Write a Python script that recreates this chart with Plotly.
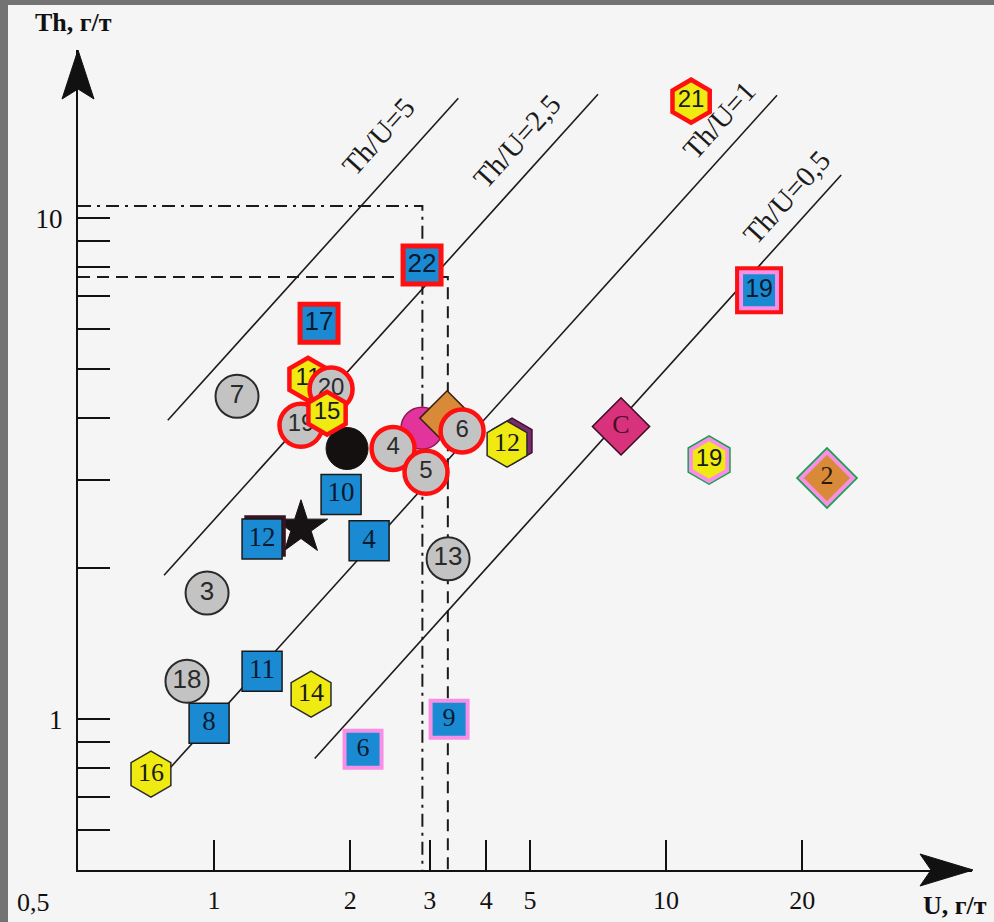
import math
import plotly.graph_objects as go

# ---------------------------------------------------------------- data
# Th/U reference lines: ratio and the U span over which each is drawn
ratio_values = [5, 2.5, 1, 0.5]
ratio_u_from = [0.79, 0.775, 0.77, 1.67]
ratio_u_to = [3.47, 7.07, 17.6, 24.4]
ratio_names = ["Th/U=5", "Th/U=2,5", "Th/U=1", "Th/U=0,5"]
ratio_name_u = [2.31, 4.68, 13.1, 18.5]
ratio_name_th = [14.6, 14.25, 15.7, 11.0]

# reference levels (dash-dot and dashed guides)
guide_u = [2.89, 3.29]
guide_th = [10.57, 7.63]

# grey circles
grey_labels = ["7", "3", "18", "13"]
grey_u = [1.124, 0.965, 0.871, 3.294]
grey_th = [4.41, 1.785, 1.191, 2.09]

# grey circles with red rim
grey_red_labels = ["20", "19", "4", "5", "6"]
grey_red_u = [1.815, 1.557, 2.489, 2.944, 3.538]
grey_red_th = [4.56, 3.86, 3.47, 3.11, 3.76]

# blue squares
blue_labels = ["10", "12", "4", "11", "8"]
blue_u = [1.910, 1.277, 2.203, 1.277, 0.975]
blue_th = [2.81, 2.29, 2.27, 1.247, 0.982]

# blue squares with red rim
blue_red_labels = ["17", "22"]
blue_red_u = [1.707, 2.885]
blue_red_th = [6.17, 8.06]

# blue squares with pink rim
blue_pink_labels = ["6", "9"]
blue_pink_u = [2.136, 3.311]
blue_pink_th = [0.871, 1.0]

# blue square with pink and red rims
blue_double_labels = ["19"]
blue_double_u = [16.06]
blue_double_th = [7.18]

# yellow hexagons
hex_labels = ["14", "16", "12"]
hex_u = [1.639, 0.725, 4.448]
hex_th = [1.122, 0.777, 3.54]

# yellow hexagons with red rim
hex_red_labels = ["11", "21", "15"]
hex_red_u = [1.614, 11.36, 1.778]
hex_red_th = [4.77, 17.12, 4.08]

# yellow hexagon with pink and green rims
hex_double_labels = ["19"]
hex_double_u = [12.45]
hex_double_th = [3.29]

# diamonds
diamond_c_labels = ["C"]
diamond_c_u = [7.95]
diamond_c_th = [3.84]

diamond_double_labels = ["2"]
diamond_double_u = [22.7]
diamond_double_th = [3.03]

diamond_orange_u = [3.278]
diamond_orange_th = [3.99]

# plain symbols
magenta_u = [2.885]
magenta_th = [3.81]
black_u = [1.969]
black_th = [3.47]
star_u = [1.557]
star_th = [2.41]

x_ticks = [1, 2, 3, 4, 5, 10, 20]
y_ticks = [0.6, 0.7, 0.8, 0.9, 1, 2, 3, 4, 5, 6, 7, 8, 9, 10]
y_tick_text = ["1" if v == 1 else "10" if v == 10 else "" for v in y_ticks]

# ---------------------------------------------------------------- styling
W, H = 994, 922
L, R, T, B = 78, 22, 50, 52
PX_PER_DEC_X = 452.0
PX_PER_DEC_Y = 501.0
plot_w = W - L - R
plot_h = H - T - B
x_range = [math.log10(0.5), math.log10(0.5) + plot_w / PX_PER_DEC_X]
y_range = [math.log10(0.5), math.log10(0.5) + plot_h / PX_PER_DEC_Y]

BLUE = "#1a8bd3"
GREY = "#c3c3c3"
YELLOW = "#eeea12"
RED = "#ff1010"
PINK = "#f78fe6"
GREEN = "#16a04c"
MAGENTA = "#d8327c"
ORANGE = "#d88a38"
SERIF = "Liberation Serif"
SANS = "Liberation Sans"
BG = "#f5f5f5"


def shifted(u, th, dx_px, dy_px):
    """Offset points by a few screen pixels on the log axes."""
    fx = 10 ** (dx_px / PX_PER_DEC_X)
    fy = 10 ** (dy_px / PX_PER_DEC_Y)
    return [v * fx for v in u], [v * fy for v in th]


fig = go.Figure()


def markers(u, th, symbol, size, fill, line_color="#222", line_width=1.5,
            labels=None, font=SANS, font_size=25, font_color="#111"):
    fig.add_trace(go.Scatter(
        x=u, y=th,
        mode="markers+text" if labels else "markers",
        text=labels,
        textposition="middle center",
        textfont=dict(family=font, size=font_size, color=font_color),
        marker=dict(symbol=symbol, size=size, color=fill,
                    line=dict(color=line_color, width=line_width)),
        hoverinfo="skip", showlegend=False, cliponaxis=False,
    ))


# Th/U ratio lines
for k, u0, u1 in zip(ratio_values, ratio_u_from, ratio_u_to):
    fig.add_trace(go.Scatter(
        x=[u0, u1], y=[k * u0, k * u1], mode="lines",
        line=dict(color="#1b1b1b", width=1.6),
        hoverinfo="skip", showlegend=False))

# guide levels
fig.add_trace(go.Scatter(
    x=[0.5, guide_u[0], guide_u[0]], y=[guide_th[0], guide_th[0], 0.5],
    mode="lines", line=dict(color="#1b1b1b", width=2, dash="13px,6px,3px,6px"),
    hoverinfo="skip", showlegend=False))
fig.add_trace(go.Scatter(
    x=[0.5, guide_u[1], guide_u[1]], y=[guide_th[1], guide_th[1], 0.5],
    mode="lines", line=dict(color="#1b1b1b", width=2, dash="12px,7px"),
    hoverinfo="skip", showlegend=False))

# symbols, back to front
markers(magenta_u, magenta_th, "circle", 42, "#e2349c", "#8a1a55", 1.5)
markers(diamond_orange_u, diamond_orange_th, "diamond", 42, ORANGE, "#3a2010", 1.5)
markers(black_u, black_th, "circle", 42, "#141010", "#141010", 1)
markers(star_u, star_th, "star", 40, "#171214", "#171214", 1)

su, sth = shifted(blue_u[1:2], blue_th[1:2], 3, 3)
markers(su, sth, "square", 40, "#3a1420", "#3a1420", 1.5)
markers(blue_u, blue_th, "square", 40, BLUE, "#1a1a1a", 1.5,
        blue_labels, SERIF, 27, "#0b1a30")
markers(blue_red_u, blue_red_th, "square", 38, BLUE, RED, 5,
        blue_red_labels, SANS, 26, "#0b1a30")
markers(blue_pink_u, blue_pink_th, "square", 37, BLUE, PINK, 4,
        blue_pink_labels, SERIF, 26, "#0b1a30")
markers(blue_double_u, blue_double_th, "square", 48, RED, RED, 0)
markers(blue_double_u, blue_double_th, "square", 36, BLUE, PINK, 4,
        blue_double_labels, SANS, 25, "#0b1a30")

markers(grey_u, grey_th, "circle", 43, GREY, "#2a2a2a", 2,
        grey_labels, SANS, 26, "#2a2a2a")

su, sth = shifted(hex_u[2:3], hex_th[2:3], 5, 3)
markers(su, sth, "hexagon", 46, "#7c2a6e", "#3a1030", 1.5)
markers(hex_u, hex_th, "hexagon", 46, YELLOW, "#2a2a2a", 1.5,
        hex_labels, SERIF, 26, "#1a1a1a")
markers(hex_red_u[:2], hex_red_th[:2], "hexagon", 43, YELLOW, RED, 4.5,
        hex_red_labels[:2], SANS, 24, "#1a1a1a")

markers(grey_red_u, grey_red_th, "circle", 43, GREY, RED, 4.5,
        grey_red_labels, SANS, 24, "#2a2a2a")
markers(hex_red_u[2:], hex_red_th[2:], "hexagon", 43, YELLOW, RED, 4.5,
        hex_red_labels[2:], SANS, 24, "#1a1a1a")

markers(diamond_c_u, diamond_c_th, "diamond", 44, MAGENTA, "#3a0c22", 1.5,
        diamond_c_labels, SERIF, 26, "#4a0c28")
markers(hex_double_u, hex_double_th, "hexagon", 50, GREEN, GREEN, 0)
markers(hex_double_u, hex_double_th, "hexagon", 42, YELLOW, PINK, 4,
        hex_double_labels, SANS, 24, "#1a1a1a")
markers(diamond_double_u, diamond_double_th, "diamond", 48, GREEN, GREEN, 0)
markers(diamond_double_u, diamond_double_th, "diamond", 40, ORANGE, PINK, 4,
        diamond_double_labels, SERIF, 26, "#2a1a10")

# ratio line captions
annotations = []
for name, u, th in zip(ratio_names, ratio_name_u, ratio_name_th):
    annotations.append(dict(
        x=math.log10(u), y=math.log10(th), xref="x", yref="y",
        xanchor="center", yanchor="middle",
        text=name, showarrow=False, textangle=-48,
        font=dict(family=SERIF, size=29, color="#1b1b1b")))

# axis captions
annotations += [
    dict(x=(73 - L) / plot_w, y=(H - B - 23) / plot_h, xref="paper", yref="paper",
         xanchor="center", yanchor="middle",
         text="<b>Th, г/т</b>", showarrow=False,
         font=dict(family=SERIF, size=26, color="#111")),
    dict(x=(955 - L) / plot_w, y=(H - B - 905) / plot_h, xref="paper", yref="paper",
         xanchor="center", yanchor="middle",
         text="<b>U, г/т</b>", showarrow=False,
         font=dict(family=SERIF, size=26, color="#111")),
    dict(x=math.log10(0.5), y=0, xref="x", yref="paper",
         xanchor="center", yanchor="top",
         xshift=-45, yshift=-16, text="0,5", showarrow=False,
         font=dict(family=SERIF, size=26, color="#111")),
]


def px(xp):
    return (xp - L) / plot_w


def py(yp):
    return (H - B - yp) / plot_h


shapes = [
    # outer frame strips
    dict(type="rect", xref="paper", yref="paper", x0=px(0), x1=px(8),
         y0=py(H), y1=py(0), fillcolor="#737373", line=dict(width=0), layer="below"),
    dict(type="rect", xref="paper", yref="paper", x0=px(0), x1=px(W),
         y0=py(5), y1=py(0), fillcolor="#737373", line=dict(width=0), layer="below"),
    # arrow heads
    dict(type="path", xref="paper", yref="paper",
         path=f"M {px(78)},{py(50)} L {px(62)},{py(99)} L {px(78)},{py(89)} "
              f"L {px(94)},{py(99)} Z",
         fillcolor="#111", line=dict(color="#111", width=1)),
    dict(type="path", xref="paper", yref="paper",
         path=f"M {px(973)},{py(870)} L {px(920)},{py(854)} L {px(931)},{py(870)} "
              f"L {px(920)},{py(886)} Z",
         fillcolor="#111", line=dict(color="#111", width=1)),
]

fig.update_layout(
    width=W, height=H,
    margin=dict(l=L, r=R, t=T, b=B, autoexpand=False),
    paper_bgcolor=BG, plot_bgcolor=BG,
    showlegend=False,
    annotations=annotations,
    shapes=shapes,
    xaxis=dict(type="log", range=x_range, showgrid=False, zeroline=False,
               automargin=False,
               showline=True, linecolor="#111", linewidth=2,
               tickmode="array", tickvals=x_ticks, ticktext=[str(v) for v in x_ticks],
               ticks="inside", ticklen=30, tickwidth=2, tickcolor="#111",
               ticklabelstandoff=6,
               tickfont=dict(family=SERIF, size=26, color="#111")),
    yaxis=dict(type="log", range=y_range, showgrid=False, zeroline=False,
               automargin=False,
               showline=True, linecolor="#111", linewidth=2,
               tickmode="array", tickvals=y_ticks, ticktext=y_tick_text,
               ticks="inside", ticklen=32, tickwidth=2, tickcolor="#111",
               ticklabelstandoff=8,
               tickfont=dict(family=SERIF, size=27, color="#111")),
)

fig.write_html("out.html")
